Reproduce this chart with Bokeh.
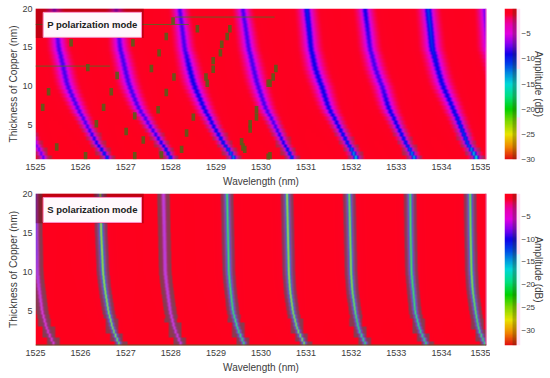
import numpy as np
from bokeh.plotting import figure
from bokeh.layouts import column, row
from bokeh.models import Label, Span, BoxAnnotation, FixedTicker, Range1d
from bokeh.embed import file_html
from bokeh.resources import INLINE

# ---------- data ----------
thickness_anchor = [0.6, 2.5, 5, 7.5, 10, 12.5, 15, 20]

p_curves = [
    [1525.20, 1525.02, 1524.80, 1524.60, 1524.45, 1524.35, 1524.25, 1524.15],
    [1526.62, 1526.39, 1526.14, 1525.92, 1525.72, 1525.62, 1525.52, 1525.42],
    [1528.02, 1527.83, 1527.53, 1527.27, 1527.09, 1526.98, 1526.88, 1526.79],
    [1529.42, 1529.20, 1528.94, 1528.72, 1528.53, 1528.41, 1528.31, 1528.20],
    [1530.71, 1530.53, 1530.31, 1530.09, 1529.94, 1529.83, 1529.73, 1529.60],
    [1532.13, 1531.95, 1531.71, 1531.49, 1531.35, 1531.20, 1531.11, 1531.02],
    [1533.42, 1533.24, 1533.02, 1532.82, 1532.69, 1532.53, 1532.42, 1532.31],
    [1534.80, 1534.60, 1534.42, 1534.24, 1534.04, 1533.91, 1533.80, 1533.71],
    [1536.10, 1535.90, 1535.70, 1535.50, 1535.35, 1535.20, 1535.05, 1534.96],
]
p_depth = [
    [8, 7, 6, 6, 6, 6, 6, 6],
    [11, 9, 8, 8, 8, 8, 8, 7],
    [11, 9, 8, 8, 8, 8, 8, 7],
    [13, 10, 9, 9, 9, 9, 8, 8],
    [11, 9, 8, 8, 8, 8, 8, 8],
    [15, 10, 9, 9, 9, 9, 9, 10],
    [14, 10, 9, 9, 8, 8, 8, 9],
    [16, 11, 10, 9, 9, 9, 10, 11],
    [16, 11, 10, 9, 9, 9, 8, 7],
]
p_width = [0.055, 0.065, 0.08, 0.095, 0.105, 0.105, 0.10, 0.09]
p_halo = [0.55, 0.5, 0.3, 0.0, 0.0, 0.0, 0.0, 0.12]

s_curves = [
    [1525.42, 1525.27, 1525.15, 1525.09, 1525.04, 1525.03, 1525.02, 1525.01],
    [1526.87, 1526.73, 1526.62, 1526.55, 1526.50, 1526.48, 1526.46, 1526.44],
    [1528.24, 1528.10, 1527.99, 1527.93, 1527.88, 1527.87, 1527.86, 1527.84],
    [1529.64, 1529.50, 1529.38, 1529.33, 1529.29, 1529.28, 1529.27, 1529.25],
    [1530.98, 1530.82, 1530.71, 1530.65, 1530.62, 1530.61, 1530.60, 1530.58],
    [1532.33, 1532.18, 1532.09, 1532.03, 1532.00, 1531.99, 1531.98, 1531.96],
    [1533.68, 1533.53, 1533.42, 1533.38, 1533.34, 1533.33, 1533.32, 1533.31],
    [1534.98, 1534.84, 1534.76, 1534.70, 1534.67, 1534.66, 1534.65, 1534.64],
]
s_depth = [
    [6, 6, 6, 7, 8, 9, 9, 10],
    [27, 28, 28, 28, 28, 28, 28, 28],
    [7, 7, 7, 7, 7, 7, 7, 7],
    [24, 24, 24, 24, 24, 24, 24, 24],
    [28, 28, 28, 28, 28, 28, 28, 28],
    [23, 23, 26, 27, 27, 27, 27, 26],
    [23, 23, 24, 24, 24, 24, 24, 24],
    [24, 25, 26, 27, 27, 27, 27, 26],
]
s_width = [0.022, 0.022, 0.025, 0.028, 0.03, 0.03, 0.03, 0.03]
s_halo = [0.8, 0.8, 0.8, 0.8, 0.8, 0.8, 0.8, 0.8]

cmap_db = [0, -1.0, -2, -3.2, -5, -7, -9, -11, -13, -15, -17.5, -20, -22.5, -25, -27.5, -30]
cmap_hex = ["#fe001c", "#fc0024", "#f40070", "#e800b0", "#e000e0", "#8800f0", "#1000e8", "#0040e8",
            "#0090e0", "#00d8d8", "#00e080", "#00d000", "#80d800", "#e8e400", "#f08800", "#e01010"]

x_ticks = [1525, 1526, 1527, 1528, 1529, 1530, 1531, 1532, 1533, 1534, 1535]
y_ticks = [5, 10, 15, 20]
cb_ticks_a = [-5, -10, -15, -20, -25, -30]
cb_ticks_b = [-5, -10, -15, -20, -25, -30]

artefact_x = [1528.05, 1528.59, 1529.31, 1529.25, 1527.90, 1527.74, 1529.13, 1529.10, 1527.57, 1528.94,
              1528.94, 1528.07, 1528.78, 1530.33, 1530.27, 1530.16, 1527.90, 1527.72, 1528.50, 1528.35,
              1528.24, 1527.79, 1529.90, 1529.90, 1529.76, 1529.57, 1529.64, 1530.16, 1525.79, 1525.29,
              1525.16, 1526.68, 1526.51, 1526.35, 1526.16, 1526.81, 1527.16, 1527.20, 1527.01, 1527.39,
              1527.20, 1525.47, 1526.11, 1528.81, 1530.20, 1529.76, 1529.60, 1530.20]
artefact_y = [18.4, 17.4, 17.4, 16.4, 16.4, 14.3, 15.4, 14.3, 12.3, 13.3,
              12.2, 11.2, 11.2, 12.3, 11.2, 10.4, 9.2, 7.0, 6.05, 4.0,
              1.9, 1.2, 7.0, 6.05, 4.5, 2.9, 1.9, 0.9, 15.6, 9.3,
              7.3, 9.3, 7.3, 5.2, 12.4, 11.4, 15.6, 6.2, 4.2, 3.1,
              1.1, 2.2, 1.1, 10.4, 10.4, 5.2, 2.2, 1.1]
streak_x0 = [1525.0, 1525.0, 1528.1]
streak_x1 = [1526.65, 1528.4, 1530.3]
streak_y = [12.6, 17.95, 18.9]

T_MIN, T_MAX = 0.6, 20.0
W_MIN, W_MAX = 1525.0, 1535.0
FONT = "Liberation Sans"
TICK = "#3c3c3c"
HALO_OUT = np.array([110.0, 72.0, 88.0])
HALO_IN = np.array([70.0, 90.0, 170.0])

def rgb(h):
    return [int(h[i:i + 2], 16) for i in (1, 3, 5)]

cmap_rgb = np.array([rgb(h) for h in cmap_hex], float)

def colours(frac):
    pos = np.array(cmap_db) / -30.0
    return np.stack([np.interp(frac, pos, cmap_rgb[:, i]) for i in range(3)], -1)

def spectrum(curves, depth, width, halo, span, halo_w, pale):
    rows = np.arange(T_MIN + 0.25, T_MAX, 0.5)
    cols = np.linspace(W_MIN, W_MAX, 451 * 4, endpoint=False) + 0.00555
    out = np.zeros((len(rows), 451, 4), dtype=np.uint8)
    for r, t in enumerate(rows):
        a = np.zeros_like(cols)
        h = np.zeros_like(cols)
        tint = np.zeros_like(cols)
        w = np.interp(t, thickness_anchor, width)
        hs = np.interp(t, thickness_anchor, halo)
        for c, d in zip(curves, depth):
            centre = np.interp(t, thickness_anchor, c)
            dp = np.interp(t, thickness_anchor, d)
            a += dp * w ** 2 / ((cols - centre) ** 2 + w ** 2)
            block = np.round(centre * 10) / 10 if t < 4 else centre
            band = (np.abs(cols - block) < halo_w) * (1 - np.exp(-((cols - centre) / (1.6 * w)) ** 2))
            h = np.maximum(h, hs * band)
            tint = np.maximum(tint, np.exp(-((cols - centre) / 0.065) ** 4))
        col = colours(np.clip(a / span, 0, 1))
        if pale > 0:
            col = col * (1 - pale * (a > 3)[:, None]) + 195.0 * pale * (a > 3)[:, None]
        halo_col = HALO_OUT * (1 - tint[:, None]) + HALO_IN * tint[:, None]
        col = col * (1 - h[:, None]) + halo_col * h[:, None]
        col = col.reshape(451, 4, 3).mean(1)
        out[r, :, :3] = col.round().astype(np.uint8)
        out[r, :, 3] = 255
    return out.view(np.uint32).reshape(len(rows), 451)

def style(p):
    p.xgrid.visible = False
    p.ygrid.visible = False
    p.outline_line_color = None
    p.background_fill_color = None
    p.border_fill_color = None
    for ax in (p.xaxis[0], p.yaxis[0]):
        ax.major_tick_line_color = None
        ax.minor_tick_line_color = None
        ax.major_tick_out = 0
        ax.minor_tick_out = 0
        ax.major_tick_in = 0
        ax.minor_tick_in = 0
        ax.axis_line_color = None
        ax.major_label_text_font = FONT
        ax.major_label_text_font_size = "9px"
        ax.major_label_text_color = TICK
        ax.axis_label_text_font = FONT
        ax.axis_label_text_font_size = "10px"
        ax.axis_label_text_font_style = "normal"
        ax.axis_label_text_color = TICK

def panel(img, top, fh, bottom, mode, letter):
    p = figure(width=490, height=top + fh + bottom, frame_width=451, frame_height=fh,
               x_range=Range1d(W_MIN, W_MAX), y_range=Range1d(T_MIN, T_MAX),
               min_border_left=35, min_border_right=4, min_border_top=top, min_border_bottom=bottom,
               output_backend="svg", toolbar_location=None,
               x_axis_label="Wavelength (nm)", y_axis_label="Thickness of Copper (nm)")
    style(p)
    p.xaxis[0].ticker = FixedTicker(ticks=x_ticks)
    p.yaxis[0].ticker = FixedTicker(ticks=y_ticks)
    p.xaxis[0].major_label_standoff = 4
    p.yaxis[0].major_label_standoff = 3
    p.xaxis[0].axis_label_standoff = 3
    p.yaxis[0].axis_label_standoff = 0
    p.yaxis[0].axis_label_text_font_size = "10.2px"
    p.image_rgba(image=[img], x=W_MIN, y=T_MIN, dw=W_MAX - W_MIN, dh=T_MAX - T_MIN)
    p.add_layout(BoxAnnotation(left=W_MIN, right=1527.4, bottom=16.2, top=T_MAX,
                               fill_color="#700000", fill_alpha=0.42, line_color=None))
    p.add_layout(Span(location=W_MAX, dimension="height", line_color="#ff70c0", line_width=2))
    p.add_layout(Label(x=1526.26, y=17.9, text=mode, text_align="center", text_baseline="middle",
                       text_font=FONT, text_font_size="9.5px", text_font_style="bold",
                       text_color="#202020", background_fill_color="#fff8fc",
                       border_line_color="#ff90c8", padding=(4, 7)))
    p.add_layout(Label(x=1524.38, y=19.65, text=letter, text_align="left", text_baseline="middle",
                       text_font=FONT, text_font_size="11px", text_font_style="bold",
                       text_color="#222222"))
    return p

def colourbar(span, ticks, top, fh, bottom):
    c = figure(width=60, height=top + fh + bottom, frame_width=16, frame_height=fh,
               x_range=Range1d(0, 1.33), y_range=Range1d(-span, 0), y_axis_location="right",
               min_border_left=14, min_border_right=30, min_border_top=top, min_border_bottom=bottom,
               output_backend="svg", toolbar_location=None, y_axis_label="Amplitude (dB)")
    style(c)
    c.xaxis.visible = False
    c.yaxis[0].ticker = FixedTicker(ticks=ticks)
    c.yaxis[0].major_label_standoff = 1
    c.yaxis[0].major_label_text_font_size = "8px"
    c.yaxis[0].axis_label_standoff = -5
    grad = colours(np.linspace(1, 0, 200))
    img = np.zeros((200, 1, 4), dtype=np.uint8)
    img[:, 0, :3] = grad.round().astype(np.uint8)
    img[:, 0, 3] = 255
    c.quad(left=[1.0], right=[1.33], bottom=[-span], top=[0], fill_color="#ffe2f6", line_color=None)
    c.quad(left=[1.0], right=[1.33], bottom=[-span * 0.72], top=[-span * 0.4],
           fill_color="#d8ffff", line_color=None)
    c.image_rgba(image=[img.view(np.uint32).reshape(200, 1)], x=0, y=-span, dw=1, dh=span)
    c.add_layout(BoxAnnotation(left=0.67, right=1.0, fill_color="#303000", fill_alpha=0.28, line_color=None))
    return c

TOP_A, BOT_A, TOP_B, BOT_B = 8, 31, 3, 33
pa = panel(spectrum(p_curves, p_depth, p_width, p_halo, 30.0, 0.17, 0.0), TOP_A, 151, BOT_A, "P polarization mode", "(a)")
pb = panel(spectrum(s_curves, s_depth, s_width, s_halo, 33.3, 0.14, 0.3), TOP_B, 152, BOT_B, "S polarization mode", "(b)")

pa.rect(x=artefact_x, y=artefact_y, width=0.08, height=0.95, fill_color="#5a5c18",
        fill_alpha=0.9, line_color=None)
pa.segment(x0=streak_x0, x1=streak_x1, y0=streak_y, y1=streak_y, line_color="#4a7020",
           line_width=1, line_alpha=0.8)
pb.add_layout(Span(location=T_MIN, dimension="width", line_color="#6a4a20", line_width=2))
pb.add_layout(BoxAnnotation(left=1534.98, right=W_MAX, fill_color="#700000", fill_alpha=0.25, line_color=None))

ca = colourbar(30.0, cb_ticks_a, TOP_A, 151, BOT_A)
cb = colourbar(33.3, cb_ticks_b, TOP_B, 152, BOT_B)

page = column(row(pa, ca, spacing=0), row(pb, cb, spacing=0), spacing=0)

open("out.html", "w").write(file_html(page, INLINE))
